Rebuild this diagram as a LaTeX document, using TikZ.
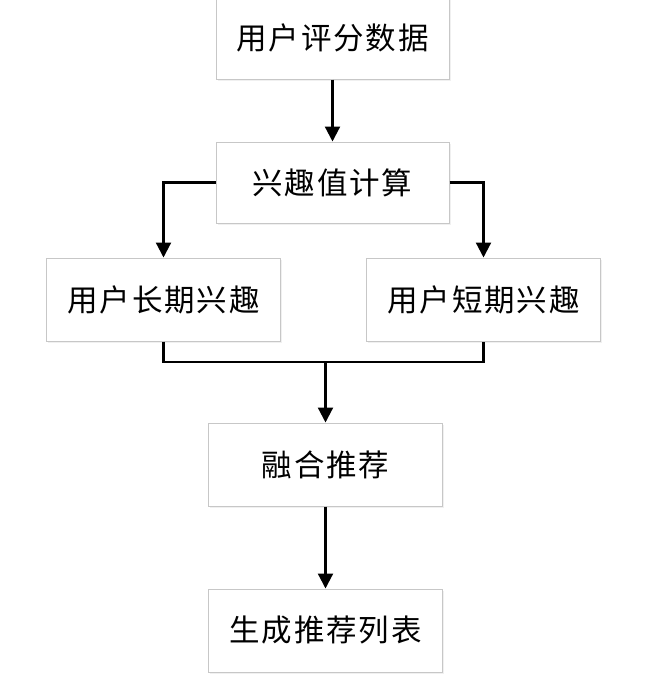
\documentclass[tikz,border=0pt]{standalone}
\usepackage{fontspec}
\newfontfamily\cjk[LetterSpace=6]{Noto Sans CJK SC}
\usetikzlibrary{arrows.meta,shadows}

\begin{document}
\begin{tikzpicture}[x=1pt,y=1pt,
  box/.style={draw=black!22,line width=1pt,fill=white,
    minimum width=234pt,minimum height=83pt,inner sep=0pt,
    font=\cjk\fontsize{30.5}{30.5}\selectfont,
    drop shadow={opacity=0.12,shadow xshift=1.5pt,shadow yshift=-2pt}},
  link/.style={line width=2.2pt,black},
  arr/.style={link,-{Triangle[length=15pt,width=15pt]}}]
\useasboundingbox (0,0) rectangle (659,-685);
% boxes
\node[box,minimum width=233pt] (data) at (332.5,-37.5) {用户评分数据};
\node[box,minimum width=233pt,minimum height=81pt] (calc) at (332.5,-182.5) {兴趣值计算};
\node[box] (long) at (163.5,-299.5) {用户长期兴趣};
\node[box] (short) at (483.5,-299.5) {用户短期兴趣};
\node[box] (fuse) at (325.5,-464.5) {融合推荐};
\node[box] (list) at (325.5,-630.5) {生成推荐列表};
% connectors
\draw[arr] (data) -- (calc);
\draw[arr] (calc.west) -| (long.north);
\draw[arr] (calc.east) -| (short.north);
\coordinate (join) at (fuse.north |- 0,-362);
\draw[link] (long.south) |- (join) -| (short.south);
\draw[arr] (join) -- (fuse.north);
\draw[arr] (fuse) -- (list);
\end{tikzpicture}
\end{document}
